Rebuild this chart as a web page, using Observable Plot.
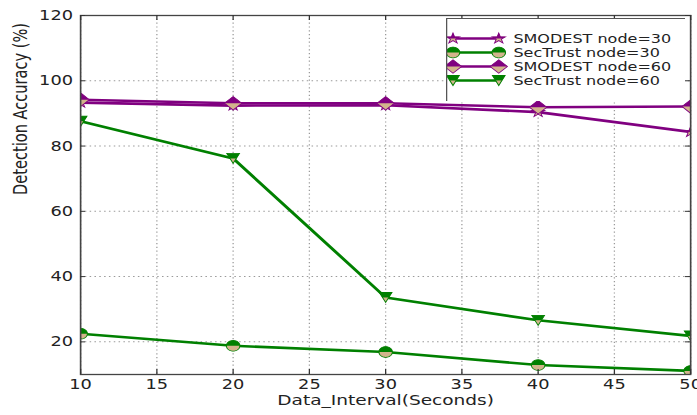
<!DOCTYPE html>
<html>
<head>
<meta charset="utf-8">
<script src="https://cdn.jsdelivr.net/npm/d3@7"></script>
<script src="https://cdn.jsdelivr.net/npm/@observablehq/plot@0.6"></script>
<style>
  html, body { margin: 0; padding: 0; background: white; }
  #wrap { position: relative; width: 697px; height: 415px; overflow: hidden; }
  #legend { position: absolute; left: 446px; top: 18px; }
</style>
</head>
<body>
<div id="wrap"><div id="chart"></div><div id="legend"></div></div>
<script>
// ---- data ----
const xs = [10, 20, 30, 40, 50];
const smodest30 = [93.3, 92.4, 92.5, 90.4, 84.3];
const secTrust30 = [22.5, 18.8, 16.9, 12.9, 11.1];
const smodest60 = [94.2, 93.1, 93.1, 91.9, 92.1];
const secTrust60 = [87.6, 76.2, 33.6, 26.6, 21.8];
const seriesNames = ["SMODEST node=30", "SecTrust node=30", "SMODEST node=60", "SecTrust node=60"];
const xTicks = [10, 15, 20, 25, 30, 35, 40, 45, 50];
const yTicks = [20, 40, 60, 80, 100, 120];
const xLabel = "Data_Interval(Seconds)";
const yLabel = "Detection Accuracy (%)";

// ---- styles ----
const PURPLE = "#800080", GREEN = "#008000", TAN = "#D2B48C";
const S = 1.27;               // horizontal stretch of the reference picture
const W = Math.round(697 / S), H = 415;

// ---- half-filled marker shapes ----
function clipHalf(pts, top) {
  const inside = p => top ? p[1] <= 0 : p[1] >= 0;
  const out = [];
  for (let i = 0; i < pts.length; i++) {
    const a = pts[i], b = pts[(i + 1) % pts.length];
    const ia = inside(a), ib = inside(b);
    if (ia) out.push(a);
    if (ia !== ib) {
      const t = a[1] / (a[1] - b[1]);
      out.push([a[0] + t * (b[0] - a[0]), 0]);
    }
  }
  return out;
}
const circlePts = d3.range(48).map(i => [Math.cos(i / 48 * 2 * Math.PI), Math.sin(i / 48 * 2 * Math.PI)]);
const diamondPts = [[0, -1], [1, 0], [0, 1], [-1, 0]];
const triDownPts = [[-1, -1], [1, -1], [0, 1]];
const starPts = d3.range(10).map(i => {
  const a = -Math.PI / 2 + i * Math.PI / 5, r = i % 2 ? 0.381966 : 1;
  return [r * Math.cos(a), r * Math.sin(a)];
});
function shape(pts, half) {
  const poly = half ? clipHalf(pts, true) : pts;
  return {
    draw(ctx, size) {
      const r = Math.sqrt(size / Math.PI);
      poly.forEach((p, i) => i ? ctx.lineTo(p[0] * r, p[1] * r) : ctx.moveTo(p[0] * r, p[1] * r));
      ctx.closePath();
    }
  };
}

const seriesDefs = [
  {vals: smodest30, color: PURPLE, pts: starPts, r: 5.5},
  {vals: secTrust30, color: GREEN, pts: circlePts, r: 5.3},
  {vals: smodest60, color: PURPLE, pts: diamondPts, r: 6.8},
  {vals: secTrust60, color: GREEN, pts: triDownPts, r: 5}
];

function seriesMarks(def) {
  const rows = xs.map((x, i) => ({x, y: def.vals[i]}));
  return [
    Plot.line(rows, {x: "x", y: "y", stroke: def.color, strokeWidth: 2.6, clip: "frame"}),
    Plot.dot(rows, {x: "x", y: "y", r: def.r, symbol: shape(def.pts, false), fill: TAN, stroke: def.color, strokeWidth: 0.8, clip: "frame"}),
    Plot.dot(rows, {x: "x", y: "y", r: def.r, symbol: shape(def.pts, true), fill: def.color, stroke: "none", clip: "frame"})
  ];
}

const mL = 63, mR = 5.5, mT = 15, mB = 41;
const innerW = W - mL - mR, innerH = H - mT - mB;
const gridStyle = {stroke: "#9a9a9a", strokeOpacity: 1, strokeWidth: 1, strokeDasharray: "1.2,2.6"};
const tickStyle = {stroke: "#333", strokeWidth: 1};

const chart = Plot.plot({
  width: W, height: H,
  marginLeft: mL, marginRight: mR, marginTop: mT, marginBottom: mB,
  x: {domain: [10, 50]},
  y: {domain: [10, 120]},
  style: {fontFamily: "'DejaVu Sans', sans-serif", fontSize: "14px", color: "#222", background: "white"},
  marks: [
    Plot.gridX(xTicks, gridStyle),
    Plot.gridY(yTicks, gridStyle),
    ...seriesDefs.flatMap(seriesMarks),
    Plot.frame({stroke: "#444", strokeWidth: 1.3}),
    // inward ticks on all four sides
    Plot.tickX(xTicks, {x: d => d, insetTop: innerH - 5, ...tickStyle}),
    Plot.tickX(xTicks, {x: d => d, insetBottom: innerH - 5, ...tickStyle}),
    Plot.tickY(yTicks, {y: d => d, insetRight: innerW - 4, ...tickStyle}),
    Plot.tickY(yTicks, {y: d => d, insetLeft: innerW - 4, ...tickStyle}),
    Plot.axisX(xTicks, {tickSize: 0, tickPadding: 5, label: null, fontSize: 14}),
    Plot.axisY(yTicks, {tickSize: 0, tickPadding: 6, label: null, fontSize: 14}),
    Plot.text([xLabel], {frameAnchor: "bottom", dy: 30, fontSize: 14.6, fill: "#222"}),
    Plot.text([yLabel], {frameAnchor: "left", rotate: -90, dx: -47, fontSize: 14.6, fill: "#222"})
  ]
});
chart.setAttribute("viewBox", `0 0 ${W} ${H}`);
chart.setAttribute("width", 697);
chart.setAttribute("preserveAspectRatio", "none");
chart.style.width = "697px";
chart.style.height = "415px";
chart.style.maxWidth = "none";
document.getElementById("chart").append(chart);

// ---- legend ----
const LW = Math.round(239 / S), LH = 83;
const legendRows = seriesNames.map((name, i) => ({name, ...seriesDefs[i]}));
const legendMarks = legendRows.flatMap(row => [
  Plot.link([row], {x1: 0, x2: 1, y1: "name", y2: "name", stroke: row.color, strokeWidth: 2.6}),
  Plot.dot([row, row], {x: (d, i) => i, y: "name", r: row.r, symbol: shape(row.pts, false), fill: TAN, stroke: row.color, strokeWidth: 0.8}),
  Plot.dot([row, row], {x: (d, i) => i, y: "name", r: row.r, symbol: shape(row.pts, true), fill: row.color, stroke: "none"})
]);
const legend = Plot.plot({
  width: LW, height: LH, margin: 0,
  x: {domain: [0, 1], range: [5, 41]},
  y: {type: "point", domain: seriesNames, range: [13, 69]},
  axis: null,
  style: {fontFamily: "'DejaVu Sans', sans-serif", fontSize: "12.6px", color: "#222", background: "white"},
  marks: [
    ...legendMarks,
    Plot.text(seriesNames, {x: 1, y: d => d, dx: 11.5, textAnchor: "start", fill: "#222", fontSize: 12.6}),
    Plot.frame({stroke: "#555", strokeWidth: 1})
  ]
});
legend.setAttribute("viewBox", `0 0 ${LW} ${LH}`);
legend.setAttribute("preserveAspectRatio", "none");
legend.style.width = "239px";
legend.style.height = LH + "px";
legend.style.maxWidth = "none";
legend.style.display = "block";
document.getElementById("legend").append(legend);
</script>
</body>
</html>
